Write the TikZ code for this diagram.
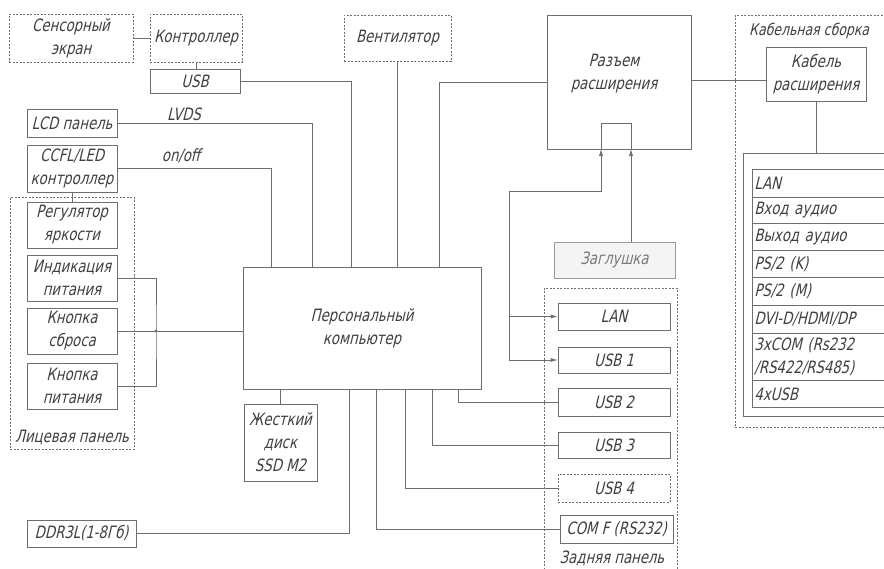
\documentclass[tikz,border=0pt]{standalone}
\usepackage{fontspec}
\newfontfamily\gost{DejaVu Sans}[FakeStretch=0.78,FakeSlant=0.24]
\usetikzlibrary{positioning,arrows.meta}
\definecolor{ln}{HTML}{6E6E6E}
\definecolor{tx}{HTML}{404040}
\definecolor{plugfill}{HTML}{F4F4F4}

\begin{document}
\begin{tikzpicture}[x=1pt,y=-1pt,
  every node/.style={font=\fontsize{17}{23}\selectfont\gost, text=tx, align=center, inner sep=1pt},
  wh/.style 2 args={minimum width=#1pt, minimum height=#2pt},
  blk/.style={draw=ln, line width=0.7pt},
  dsh/.style={blk, dash pattern=on 2pt off 1.5pt},
  wire/.style={draw=ln, line width=0.7pt},
  tip/.style={-{Latex[length=7pt,width=4pt]}},
  tips/.style={{Latex[length=7pt,width=4pt]}-{Latex[length=7pt,width=4pt]}},
  row/.style={blk, anchor=north west, text width=146pt, align=left, inner sep=2pt}]
\useasboundingbox (0,0) rectangle (884,568);
\clip (0,0) rectangle (884,568);
\fill[white] (0,0) rectangle (884,568);

\node[dsh, wh={124}{48}] (touch) at (71,38) {Сенсорный\\экран};
\node[dsh, wh={92}{48}] (tctrl) at (196,38) {Контроллер};
\node[blk, wh={90}{24}] (usb) at (195,81) {USB};
\node[blk, wh={90}{28}] (lcd) at (72,123) {LCD панель};
\node[blk, wh={90}{47}] (ccfl) at (72,168.5) {CCFL/LED\\контроллер};
\node (lvds) at (184,114) {LVDS};
\node (onoff) at (181,156) {on/off};

\node[dsh, wh={124}{252}] (front) at (72,323) {};
\node[blk, wh={90}{46}] (bright) at (72,225) {Регулятор\\яркости};
\node[blk, wh={90}{46}] (pled) at (72,278) {Индикация\\питания};
\node[blk, wh={90}{46}] (reset) at (72,331) {Кнопка\\сброса};
\node[blk, wh={90}{46}] (power) at (72,386) {Кнопка\\питания};
\node (frontl) at (72,437) {Лицевая панель};
\coordinate (jn) at (156,331);

\node[dsh, wh={107}{46}] (fan) at (397.5,38) {Вентилятор};
\node[blk, wh={238}{122}] (pc) at (362,328) {Персональный\\компьютер};
\node[blk, wh={73}{77}] (hdd) at (280.5,442.5) {Жесткий\\диск\\SSD M2};
\node[blk, wh={109}{27}] (ddr) at (81.5,533.5) {DDR3L(1-8Гб)};

\node[blk, wh={144}{134}] (exp) at (619,82) {};
\node (expl) at (614,74) {Разъем\\расширения};
\coordinate (slotl) at (601,149);
\coordinate (slotr) at (631,149);
\coordinate (slottop) at (631,123);
\coordinate (bus) at (509,191);
\node[draw=ln!70, line width=0.7pt, fill=plugfill, text=tx!70, wh={121}{36}] (plug) at (614.5,260) {Заглушка};

\node[dsh, wh={133}{284}] (rear) at (610.5,430) {};
\node[blk, wh={112}{27}] (lan) at (614,316.5) {LAN};
\node[blk, wh={112}{26}] (usb1) at (614,360) {USB 1};
\node[blk, wh={112}{28}] (usb2) at (614,402) {USB 2};
\node[blk, wh={112}{26}] (usb3) at (614,445) {USB 3};
\node[dsh, wh={112}{28}] (usb4) at (614,488) {USB 4};
\node[blk, wh={113}{28}] (comf) at (616.5,529) {COM F (RS232)};
\node (rearl) at (612,558) {Задняя панель};

\node[dsh, anchor=north west, wh={160}{412}] (kit) at (735,15) {};
\node[anchor=west, font=\fontsize{16}{23}\selectfont\gost] (kitl) at (748,31) {Кабельная сборка};
\node[blk, wh={100}{54}] (cab) at (816,74) {Кабель\\расширения};
\node[blk, anchor=north west, wh={160}{263}] (conn) at (743,153) {};
\foreach \lbl/\ya/\yb [count=\i] in {{LAN}/169/197, {Вход аудио}/197/223,
    {Выход аудио}/223/250, {PS/2 (K)}/250/277, {PS/2 (M)}/277/305,
    {DVI-D/HDMI/DP}/305/333, {3xCOM (Rs232\\/RS422/RS485)}/333/380, {4xUSB}/380/407}
  \node[row, minimum height={(\yb-\ya)*1pt}] (r\i) at (752,\ya) {\lbl};

\draw[wire] (touch) -- (tctrl);
\draw[wire] (tctrl.south) -- (tctrl.south |- usb.north);
\draw[wire] (usb) -| ([xshift=109pt]pc.north west);
\draw[wire] (lcd) -| ([xshift=70pt]pc.north west);
\draw[wire] (ccfl) -| ([xshift=29pt]pc.north west);
\draw[wire] (ccfl) -- (bright);
\draw[wire] (fan) -- (fan |- pc.north);
\draw[wire] (exp) -| ([xshift=197pt]pc.north west);
\draw[wire] (pled) -| (jn) |- (power);
\draw[wire] (reset) -- (reset -| pc.west);
\fill[ln] (jn) circle (1.6);
\draw[wire] (hdd) -- (hdd |- pc.south);
\draw[wire] (ddr) -| ([xshift=107pt]pc.south west);
\draw[wire] (comf) -| ([xshift=134pt]pc.south west);
\draw[wire] (usb4) -| ([xshift=163pt]pc.south west);
\draw[wire] (usb3) -| ([xshift=190pt]pc.south west);
\draw[wire] (usb2) -| ([xshift=216pt]pc.south west);
\draw[wire] ([yshift=-6pt]cab.west -| exp.east) -- ([yshift=-6pt]cab.west);
\draw[wire] (cab) -- (cab |- conn.north);
\draw[wire] (slotl) |- (slottop) -- (slotr);
\draw[wire, tips] (slotl) |- (bus) |- (usb1);
\draw[wire, tip] (bus |- lan) -- (lan);
\draw[wire, tip] (slotr |- plug.north) -- (slotr);
\end{tikzpicture}
\end{document}
